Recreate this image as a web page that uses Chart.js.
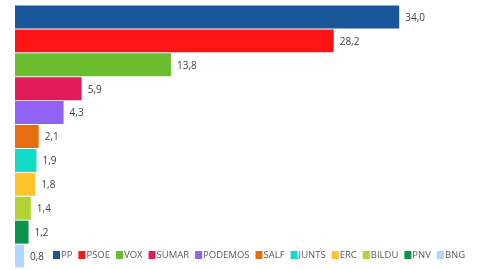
<!DOCTYPE html>
<html lang="es">
  <head>
    <meta charset="UTF-8" />
    <title>Estimación de voto</title>
    <script src="https://cdn.jsdelivr.net/npm/chart.js@4.4.0/dist/chart.umd.min.js"></script>
    <style>
      html, body { margin: 0; padding: 0; background: #ffffff; }
      #wrap { width: 480px; height: 270px; position: relative; }
    </style>
  </head>
  <body>
    <div id="wrap"><canvas id="votoChart"></canvas></div>

    <script>
      // Partidos y estimación (%)
      const parties = ["PP", "PSOE", "VOX", "SUMAR", "PODEMOS", "SALF", "JUNTS", "ERC", "BILDU", "PNV", "BNG"];
      const votes = [34.0, 28.2, 13.8, 5.9, 4.3, 2.1, 1.9, 1.8, 1.4, 1.2, 0.8];
      const partyColors = [
        "#1a5799", "#fe1414", "#6abd2d", "#e31b5c", "#9163f5", "#e46e10",
        "#12dcc6", "#fec42c", "#b3d334", "#0a9449", "#afd6fe",
      ];

      const fontFamily = "'Open Sans', 'Liberation Sans', sans-serif";

      // value labels at the end of every bar
      const valueLabels = {
        id: "valueLabels",
        afterDatasetsDraw(chart) {
          const ctx = chart.ctx;
          const meta = chart.getDatasetMeta(0);
          ctx.save();
          ctx.font = "10px " + fontFamily;
          ctx.fillStyle = "#404040";
          ctx.textBaseline = "middle";
          ctx.textAlign = "left";
          meta.data.forEach((bar, i) => {
            const txt = votes[i].toFixed(1).replace(".", ",");
            ctx.fillText(txt, bar.x + 6, bar.y + 1);
          });
          ctx.restore();
        },
      };

      // legend drawn on a single row over the lower bars
      const rowLegend = {
        id: "rowLegend",
        afterDraw(chart) {
          const ctx = chart.ctx;
          ctx.save();
          ctx.font = "9.5px " + fontFamily;
          ctx.textBaseline = "middle";
          let x = 53;
          const y = 255;
          parties.forEach((p, i) => {
            ctx.fillStyle = partyColors[i];
            ctx.fillRect(x, y - 4, 7, 8);
            ctx.fillStyle = "#595959";
            ctx.fillText(p, x + 8, y);
            x += 8 + ctx.measureText(p).width + 6;
          });
          ctx.restore();
        },
      };

      new Chart(document.getElementById("votoChart"), {
        type: "bar",
        data: {
          labels: parties,
          datasets: [
            {
              data: votes,
              backgroundColor: partyColors,
              borderWidth: 0,
              barPercentage: 0.96,
              categoryPercentage: 1,
            },
          ],
        },
        options: {
          indexAxis: "y",
          responsive: true,
          maintainAspectRatio: false,
          animation: false,
          layout: { padding: { left: 15, right: 13, top: 5, bottom: 2 } },
          plugins: {
            legend: { display: false },
            tooltip: { enabled: false },
          },
          scales: {
            x: { display: false, min: 0, max: 40 },
            y: { display: false },
          },
        },
        plugins: [valueLabels, rowLegend],
      });
    </script>
  </body>
</html>
